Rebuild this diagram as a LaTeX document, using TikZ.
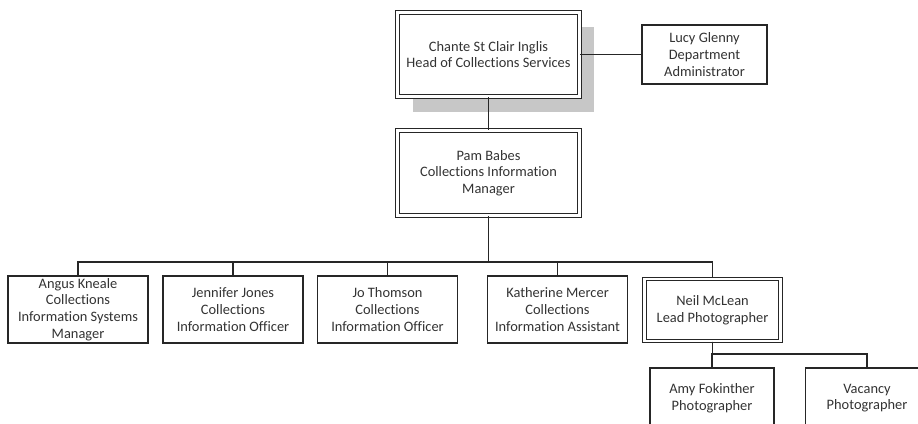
\documentclass[tikz,border=0pt]{standalone}
\usepackage{fontspec}
\setmainfont{Carlito}[Ligatures={NoCommon}]
\usetikzlibrary{shadows}

\begin{document}
\begin{tikzpicture}[x=0.02cm, y=-0.02cm, font=\fontsize{8.2}{9.5}\selectfont,
  box/.style={draw=black!85, line width=0.6pt, align=center, inner sep=0pt, fill=white, text=black!80},
  dbox/.style={box, double=white, double distance=1.6pt},
  link/.style={draw=black!85, line width=0.6pt}]
  \path[use as bounding box, clip] (0,0) rectangle (918,423);

  \node[dbox, minimum width=3.64cm, minimum height=1.69cm,
    drop shadow={shadow xshift=0.3cm, shadow yshift=-0.3cm, fill=black!22, opacity=1}]
    (head) at (488.5,54.5) {Chante St Clair Inglis\\Head of Collections Services};
  \node[box, minimum width=2.5cm, minimum height=1.18cm] (admin) at (704.5,54.5) {Lucy Glenny\\Department\\Administrator};
  \node[dbox, minimum width=3.64cm, minimum height=1.71cm] (manager) at (488.5,173) {Pam Babes\\Collections Information\\Manager};

  \node[box, minimum width=2.8cm, minimum height=1.34cm] (angus) at (78,309.5) {Angus Kneale\\Collections\\Information Systems\\Manager};
  \node[box, minimum width=2.8cm, minimum height=1.34cm] (jennifer) at (233,309.5) {Jennifer Jones\\Collections\\Information Officer};
  \node[box, minimum width=2.8cm, minimum height=1.34cm] (jo) at (387.5,309.5) {Jo Thomson\\Collections\\Information Officer};
  \node[box, minimum width=2.8cm, minimum height=1.34cm] (katherine) at (557.5,309.5) {Katherine Mercer\\Collections\\Information Assistant};
  \node[dbox, minimum width=2.72cm, minimum height=1.24cm] (neil) at (712.5,310) {Neil McLean\\Lead Photographer};

  \node[box, minimum width=2.48cm, minimum height=1.2cm] (amy) at (712,398) {Amy Fokinther\\Photographer};
  \node[box, minimum width=2.48cm, minimum height=1.2cm] (vacancy) at (867,398) {Vacancy\\Photographer};

  \draw[link] (head) -- (admin);
  \draw[link] (head) -- (manager);

  \coordinate (staffbus) at (0,262);
  \foreach \n in {angus,jennifer,jo,katherine,neil}
    \draw[link] (manager.south) -- (manager.south |- staffbus) -| (\n.north);

  \coordinate (photobus) at (0,354);
  \foreach \n in {amy,vacancy}
    \draw[link] (neil.south) -- (neil.south |- photobus) -| (\n.north);
\end{tikzpicture}
\end{document}
